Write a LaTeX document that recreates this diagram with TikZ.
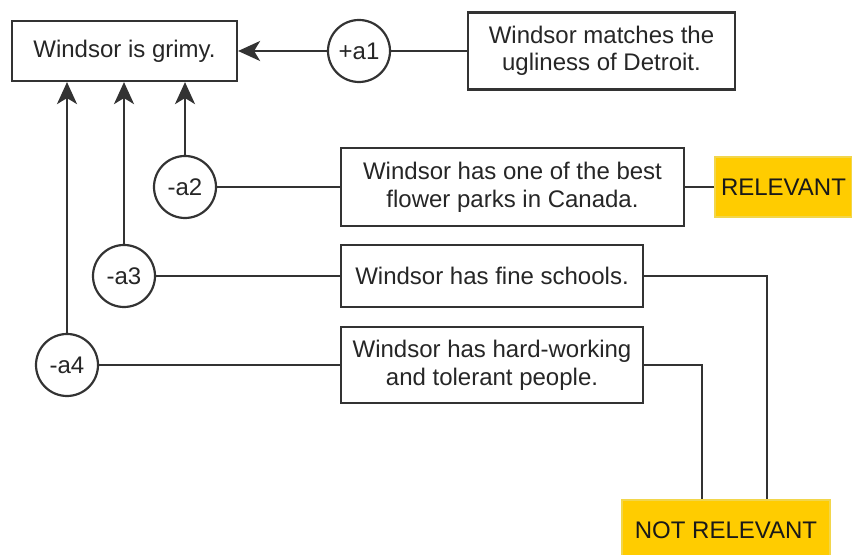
\documentclass[tikz,border=0pt]{standalone}
\usepackage{fontspec}
\setmainfont{Liberation Sans}
\usetikzlibrary{arrows.meta}
\definecolor{linegray}{HTML}{333333}
\definecolor{tagfill}{HTML}{FFCC00}
\definecolor{tagedge}{HTML}{F2D64B}
\tikzset{
  claimbox/.style={draw=linegray,line width=1.1pt,fill=white,align=center,
    inner sep=0pt,text=black!85},
  argcircle/.style={circle,draw=linegray,line width=1.1pt,fill=white,
    minimum size=31pt,inner sep=0pt,text=black!85},
  tagbox/.style={draw=tagedge,line width=0.8pt,fill=tagfill,inner sep=0pt,
    text=black!90},
  link/.style={draw=linegray,line width=1.1pt},
  supports/.style={link,-{Stealth[length=11pt,width=10pt,inset=3pt]}}
}
\begin{document}
\begin{tikzpicture}[x=0.5pt,y=-0.5pt,font=\fontsize{12}{13.8}\selectfont]
\useasboundingbox (0,0) rectangle (852,555);

% the claim and its arguments
\node[claimbox,minimum width=112.5pt,minimum height=30pt] (grimy) at (124.5,51) {Windsor is grimy.};
\node[argcircle] (a1) at (359,51) {+a1};
\node[argcircle] (a2) at (185,187) {-a2};
\node[argcircle] (a3) at (124,276) {-a3};
\node[argcircle] (a4) at (67,365) {-a4};

% premises
\node[claimbox,minimum width=133.5pt,minimum height=38.5pt] (detroit) at (601.5,51)
  {Windsor matches the\\ugliness of Detroit.};
\node[claimbox,minimum width=171.5pt,minimum height=39pt] (flower) at (512.5,187)
  {Windsor has one of the best\\flower parks in Canada.};
\node[claimbox,minimum width=151pt,minimum height=31pt] (schools) at (492,276)
  {Windsor has fine schools.};
\node[claimbox,minimum width=151pt,minimum height=38pt] (people) at (492,365)
  {Windsor has hard-working\\and tolerant people.};

% relevance tags
\node[tagbox,minimum width=68.5pt,minimum height=30pt] (rel) at (783.5,187) {RELEVANT};
\node[tagbox,minimum width=104pt,minimum height=30pt] (notrel) at (726,530) {NOT RELEVANT};

\draw[supports] (a1) -- (grimy);
\draw[supports] (a2.north) -- (a2.north |- grimy.south);
\draw[supports] (a3.north) -- (a3.north |- grimy.south);
\draw[supports] (a4.north) -- (a4.north |- grimy.south);
\draw[link] (detroit) -- (a1);
\draw[link] (flower) -- (a2);
\draw[link] (schools) -- (a3);
\draw[link] (people) -- (a4);
\draw[link] (flower) -- (rel);
\draw[link] (schools.east) -| ([xshift=20.5pt]notrel.north);
\draw[link] (people.east) -| ([xshift=-12pt]notrel.north);
\end{tikzpicture}
\end{document}
